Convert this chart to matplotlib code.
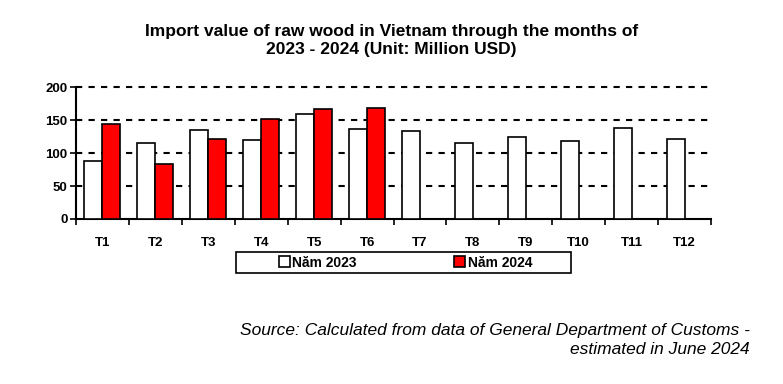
import numpy as np
import matplotlib
matplotlib.use('Agg')
import matplotlib.pyplot as plt
from matplotlib.patches import Patch, Rectangle

plt.rcParams['font.family'] = ['Liberation Sans', 'DejaVu Sans']

months = ['T1', 'T2', 'T3', 'T4', 'T5', 'T6', 'T7', 'T8', 'T9', 'T10', 'T11', 'T12']
nam_2023 = [88, 116, 135, 120, 160, 136, 133, 116, 125, 119, 138, 122]
nam_2024 = [144, 84, 122, 152, 167, 168, np.nan, np.nan, np.nan, np.nan, np.nan, np.nan]

fig = plt.figure(figsize=(7.83, 3.84), dpi=100)
ax = fig.add_axes([0.0971, 0.4297, 0.811, 0.343])

x = np.arange(len(months))
w = 0.34
ax.bar(x - w / 2, nam_2023, width=w, color='white', edgecolor='black', linewidth=1.2, zorder=3)
ax.bar(x + w / 2, nam_2024, width=w, color='#ff0000', edgecolor='black', linewidth=1.2, zorder=3)

ax.set_xlim(-0.5, len(months) - 0.5)
ax.set_ylim(0, 200)
ax.set_yticks([0, 50, 100, 150, 200])
for yv in [50, 100, 150, 200]:
    ax.axhline(yv, color='black', linestyle=(0, (3, 3)), linewidth=1.5, zorder=1, clip_on=False)

ax.set_xticks(x)
ax.set_xticklabels(months, fontweight='bold', fontsize=9.5)
ax.tick_params(axis='x', length=0, pad=13)
ax.set_xticks(np.arange(-0.5, len(months)), minor=True)
ax.tick_params(axis='x', which='minor', length=4, width=1.2, direction='out')
ax.tick_params(axis='y', length=4, width=1.2, labelsize=9.5, pad=2)
for lab in ax.get_yticklabels():
    lab.set_fontweight('bold')

for s in ['top', 'right']:
    ax.spines[s].set_visible(False)
ax.spines['left'].set_linewidth(1.5)
ax.spines['bottom'].set_linewidth(1.5)

fig.text(0.5, 0.895, 'Import value of raw wood in Vietnam through the months of\n2023 - 2024 (Unit: Million USD)',
         ha='center', va='center', fontsize=12.5, fontweight='bold', linespacing=1.25)

# legend box drawn separately so it can be wider than the entries
fig.patches.append(Rectangle((0.3014, 0.289), 0.4278, 0.0547, transform=fig.transFigure,
                             facecolor='white', edgecolor='black', linewidth=1.2, zorder=0))
handles = [Patch(facecolor='white', edgecolor='black', linewidth=1.2),
           Patch(facecolor='#ff0000', edgecolor='black', linewidth=1.2)]
leg = fig.legend(handles, ['Năm 2023', 'Năm 2024'], loc='center',
                 bbox_to_anchor=(0.518, 0.3164), ncol=2, frameon=False,
                 handlelength=0.8, handleheight=0.8, handletextpad=0.2,
                 columnspacing=7.0, borderpad=0.2, borderaxespad=0,
                 prop={'weight': 'bold', 'size': 10})

fig.text(0.958, 0.1146, 'Source: Calculated from data of General Department of Customs -\nestimated in June 2024',
         ha='right', va='center', fontsize=12.5, style='italic', linespacing=1.3)

fig.savefig('out.png', dpi=100)
